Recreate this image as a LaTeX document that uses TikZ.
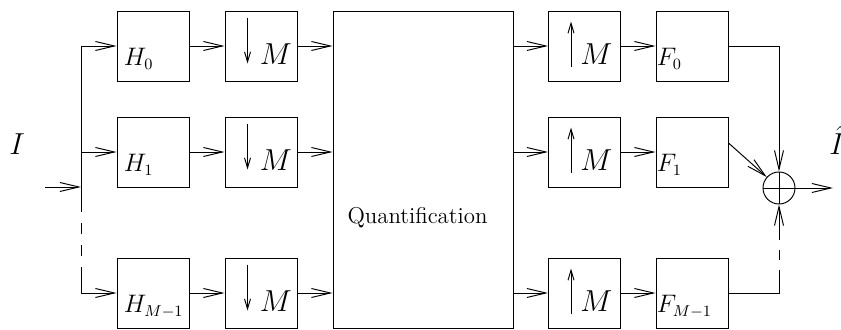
\documentclass[tikz,border=0pt]{standalone}
\usetikzlibrary{positioning,arrows.meta,calc}

\begin{document}
\begin{tikzpicture}[x=0.2mm, y=-0.2mm,
    block/.style={rectangle, draw=black, line width=0.55pt, minimum width=14.4mm, minimum height=14mm, inner sep=0pt},
    quant/.style={rectangle, draw=black, line width=0.55pt, minimum width=36mm, minimum height=63.4mm, inner sep=0pt},
    adder/.style={circle, draw=black, line width=0.55pt, minimum size=6.4mm, inner sep=0pt,
                  path picture={\draw[line width=0.55pt]
                  (path picture bounding box.north) -- (path picture bounding box.south)
                  (path picture bounding box.west) -- (path picture bounding box.east);}},
    arrow/.style={-{Straight Barb[length=3.8mm,width=1.8mm]}, line width=0.55pt},
    rate/.style={-{Straight Barb[length=2mm,width=1.2mm]}, line width=0.55pt},
    link/.style={line width=0.55pt},
    gap/.style={line width=0.55pt, dash pattern=on 2.2mm off 2.2mm, dash phase=2.2mm},
    filt/.style={font=\fontsize{13.5}{15}\selectfont, anchor=base west, inner sep=0pt},
    big/.style={font=\fontsize{17.5}{20}\selectfont, anchor=base west, inner sep=0pt}
]
\useasboundingbox (0,0) rectangle (841,330);

% Central block
\node[quant] (quant) at (423,169.5) {};
\node[font=\fontsize{13}{15}\selectfont, anchor=base, inner sep=0pt] (qtext) at (417.5,224) {Quantification};

% Branches
\foreach \r/\y/\s in {0/46/0, 1/152/1, 2/293/{M-1}} {
    \coordinate (s\r) at (81,\y);
    \node[block] (h\r) at (153,\y) {};
    \node[block] (dn\r) at (261,\y) {};
    \node[block] (up\r) at (584.5,\y) {};
    \node[block] (f\r) at (692,\y) {};
    \node[filt] at ($(h\r.south west)+(7,-16)$) {$H_{\s}$};
    \node[filt] at ($(f\r.south west)+(1,-16)$) {$F_{\s}$};
    \node[big] at ($(dn\r.south west)+(35,-17)$) {$M$};
    \node[big] at ($(up\r.south west)+(32,-17)$) {$M$};
    \draw[rate] ($(dn\r.north west)+(23,7)$) -- ($(dn\r.north west)+(23,53)$);
    \draw[rate] ($(up\r.north west)+(23,56)$) -- ($(up\r.north west)+(23,11)$);
    \draw[arrow] (s\r) -- (h\r);
    \draw[arrow] (h\r) -- (dn\r);
    \draw[arrow] (dn\r.east) -- (dn\r.east -| quant.west);
    \draw[arrow] (up\r.east -| quant.east) -- (up\r);
    \draw[arrow] (up\r) -- (f\r);
}

% Input and splitter
\coordinate (in) at (45,187);
\coordinate (join) at (81,187);
\coordinate (d0) at (81,212);
\coordinate (d1) at (81,268);
\draw[arrow] (in) -- (join);
\draw[link] (s0) -- (d0);
\draw[gap] (d0) -- (d1);
\draw[link] (d1) -- (s2);
\node[big, font=\fontsize{18}{20}\selectfont] (lin) at (9,155) {$I$};

% Adder and output
\node[adder] (sum) at (779,188) {};
\draw[arrow] (f0) -| (sum.north);
\draw[arrow] ([yshift=1.8mm]f1.east) -- (sum);
\coordinate (b0) at (sum.south |- f2.east);
\draw[link] (f2) -- (b0) -- ++(0,-23) coordinate (b1);
\draw[link, dash pattern=on 2mm off 2mm, dash phase=2mm] (b1) -- ++(0,-35) coordinate (b2);
\draw[arrow] (b2) -- (sum.south);
\coordinate (out) at (833,188);
\draw[arrow] (sum) -- (out);
\node[big, font=\fontsize{18}{20}\selectfont] (lout) at (829,155) {$\hat{I}$};

\end{tikzpicture}
\end{document}
